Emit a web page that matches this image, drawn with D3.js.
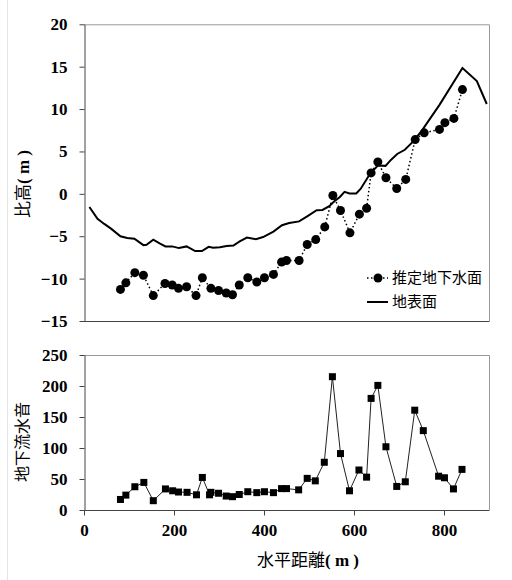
<!DOCTYPE html>
<html lang="ja">
<head>
<meta charset="UTF-8">
<title>比高と地下流水音</title>
<script src="https://d3js.org/d3.v7.min.js"></script>
<style>
  body { margin: 0; background: #fff; }
  .tick-label { font-family: "Liberation Serif", serif; font-weight: bold; font-size: 17px; fill: #000; }
  .jp { font-family: "Noto Sans CJK JP", sans-serif; fill: #000; }
  .serif-b { font-family: "Liberation Serif", serif; font-weight: bold; }
</style>
</head>
<body>
<div id="chart"></div>
<script>
// ground surface (地表面): distance (m), elevation (m)
var groundX = [12,30,45,60,81,96,112,132,139,154,168,181,196,211,228,247,262,277,287,302,317,332,346,362,382,398,421,440,456,478,496,517,530,545,558,568,579,590,605,615,636,653,670,682,696,713,730,750,790,841,873,895];
var groundY = [-1.55,-2.95,-3.55,-4.1,-5.0,-5.2,-5.3,-6.05,-6.0,-5.4,-5.85,-6.2,-6.2,-6.4,-6.2,-6.75,-6.75,-6.25,-6.35,-6.3,-6.15,-6.1,-5.6,-5.15,-5.35,-5.1,-4.45,-3.7,-3.45,-3.25,-2.65,-1.93,-1.9,-1.45,-0.8,-0.4,0.24,0.05,0.05,0.6,2.4,3.35,3.3,4.0,4.7,5.2,6.1,7.4,10.5,14.85,13.3,10.6];

// estimated groundwater table (推定地下水面)
var waterX = [81,93,113,132,154,180,196,210,228,249,263,282,299,316,330,345,364,384,401,421,439,450,478,496,515,535,553,570,591,612,628,638,653,671,695,715,736,756,790,802,822,841];
var waterY = [-11.27,-10.5,-9.3,-9.6,-12.0,-10.57,-10.76,-11.15,-10.96,-12.0,-9.9,-11.15,-11.4,-11.7,-11.9,-10.76,-9.9,-10.4,-9.9,-9.5,-8.05,-7.86,-7.86,-5.97,-5.4,-3.9,-0.2,-1.96,-4.6,-2.4,-1.7,2.47,3.77,1.9,0.63,1.7,6.4,7.2,7.6,8.4,8.9,12.3];

// underground flowing water sound (地下流水音)
var soundX = [81,93,113,133,154,181,197,210,229,250,263,279,282,299,316,330,345,364,384,401,421,439,450,477,496,514,534,552,570,590,611,628,638,653,671,695,714,735,754,788,801,821,840];
var soundY = [17,24,37.5,44.5,15,34,31,29,28.5,24.5,52.5,24.5,28.5,27,22.5,21.5,25,29.5,28,29.5,28,34.5,34.5,32.5,51,47,77,215,91,31,64.5,53,180,201,102,38,45.5,161,128,54.5,52,34,65.5];

var topTicks = [-15,-10,-5,0,5,10,15,20];
var botTicks = [0,50,100,150,200,250];
var xTicks = [0,200,400,600,800];

var W = 512, H = 580;
var svg = d3.select("#chart").append("svg")
  .attr("width", W).attr("height", H);

// faint frame edge on the left
svg.append("line").attr("x1", 7.5).attr("x2", 7.5).attr("y1", 0).attr("y2", H)
  .attr("stroke", "#e4e4e4");

var x = d3.scaleLinear().domain([0, 900]).range([84, 489]);
var yTop = d3.scaleLinear().domain([-15, 20]).range([321, 24.3]);
var yBot = d3.scaleLinear().domain([0, 250]).range([510, 355]);

function frame(y, ticks) {
  var r = y.range();
  // top and right border (light)
  svg.append("path")
    .attr("d", "M" + x(0) + "," + (r[1] + 0.5) + "H" + (x(900) + 0.5) + "V" + r[0])
    .attr("fill", "none").attr("stroke", "#999");
  // left axis
  var g = svg.append("g").attr("transform", "translate(" + (x(0) + 0.5) + ",0)")
    .call(d3.axisLeft(y).tickValues(ticks).tickSize(5).tickSizeOuter(0).tickPadding(12));
  g.select(".domain").attr("stroke", "#444");
  g.selectAll(".tick line").attr("stroke", "#444");
  g.selectAll(".tick text").attr("class", "tick-label");
  // bottom line
  svg.append("line").attr("x1", x(0)).attr("x2", x(900) + 0.5)
    .attr("y1", r[0] + 0.5).attr("y2", r[0] + 0.5).attr("stroke", "#444");
}

frame(yTop, topTicks);
frame(yBot, botTicks);

// x axis of bottom chart
var gx = svg.append("g").attr("transform", "translate(0," + (yBot(0) + 0.5) + ")")
  .call(d3.axisBottom(x).tickValues(xTicks).tickSize(5).tickSizeOuter(0).tickPadding(8));
gx.select(".domain").remove();
gx.selectAll(".tick line").attr("stroke", "#444");
gx.selectAll(".tick text").attr("class", "tick-label");

// ground surface
var ground = groundX.map(function(d, i) { return [d, groundY[i]]; });
svg.append("path").datum(ground)
  .attr("d", d3.line().x(function(d) { return x(d[0]); }).y(function(d) { return yTop(d[1]); }))
  .attr("fill", "none").attr("stroke", "#000").attr("stroke-width", 2);

// groundwater
var water = waterX.map(function(d, i) { return [d, waterY[i]]; });
svg.append("path").datum(water)
  .attr("d", d3.line().x(function(d) { return x(d[0]); }).y(function(d) { return yTop(d[1]); }))
  .attr("fill", "none").attr("stroke", "#000").attr("stroke-width", 1.5)
  .attr("stroke-dasharray", "1.5,2.5");
svg.selectAll(".wdot").data(water).enter().append("circle")
  .attr("cx", function(d) { return x(d[0]); })
  .attr("cy", function(d) { return yTop(d[1]); })
  .attr("r", 4.5).attr("fill", "#000");

// sound
var sound = soundX.map(function(d, i) { return [d, soundY[i]]; });
svg.append("path").datum(sound)
  .attr("d", d3.line().x(function(d) { return x(d[0]); }).y(function(d) { return yBot(d[1]); }))
  .attr("fill", "none").attr("stroke", "#222").attr("stroke-width", 1);
svg.selectAll(".sq").data(sound).enter().append("rect")
  .attr("x", function(d) { return x(d[0]) - 3.5; })
  .attr("y", function(d) { return yBot(d[1]) - 3.5; })
  .attr("width", 7).attr("height", 7).attr("fill", "#000");

// legend
var lg = svg.append("g").attr("transform", "translate(367,0)");
lg.append("line").attr("x1", 0).attr("x2", 21).attr("y1", 278).attr("y2", 278)
  .attr("stroke", "#000").attr("stroke-width", 1.5).attr("stroke-dasharray", "1.5,2.5");
lg.append("circle").attr("cx", 11).attr("cy", 278).attr("r", 4.5).attr("fill", "#000");
lg.append("text").attr("class", "jp").attr("x", 25).attr("y", 278).attr("dy", "0.35em")
  .style("font-size", "15px").text("推定地下水面");
lg.append("line").attr("x1", 0).attr("x2", 21).attr("y1", 302).attr("y2", 302)
  .attr("stroke", "#000").attr("stroke-width", 2);
lg.append("text").attr("class", "jp").attr("x", 25).attr("y", 302).attr("dy", "0.35em")
  .style("font-size", "15px").text("地表面");

// axis titles
function title(tx, ty, rot, jpText) {
  var t = svg.append("text").attr("class", "jp")
    .attr("transform", "translate(" + tx + "," + ty + ")" + (rot ? " rotate(-90)" : ""))
    .attr("text-anchor", "middle").style("font-size", "17px");
  t.append("tspan").text(jpText);
  t.append("tspan").attr("class", "serif-b").attr("xml:space", "preserve").text("( m )");
  return t;
}
title(29, 184, true, "比高");
title(308, 566, false, "水平距離");
svg.append("text").attr("class", "jp")
  .attr("transform", "translate(28,442) rotate(-90)")
  .attr("text-anchor", "middle").style("font-size", "16px").text("地下流水音");
</script>
</body>
</html>
